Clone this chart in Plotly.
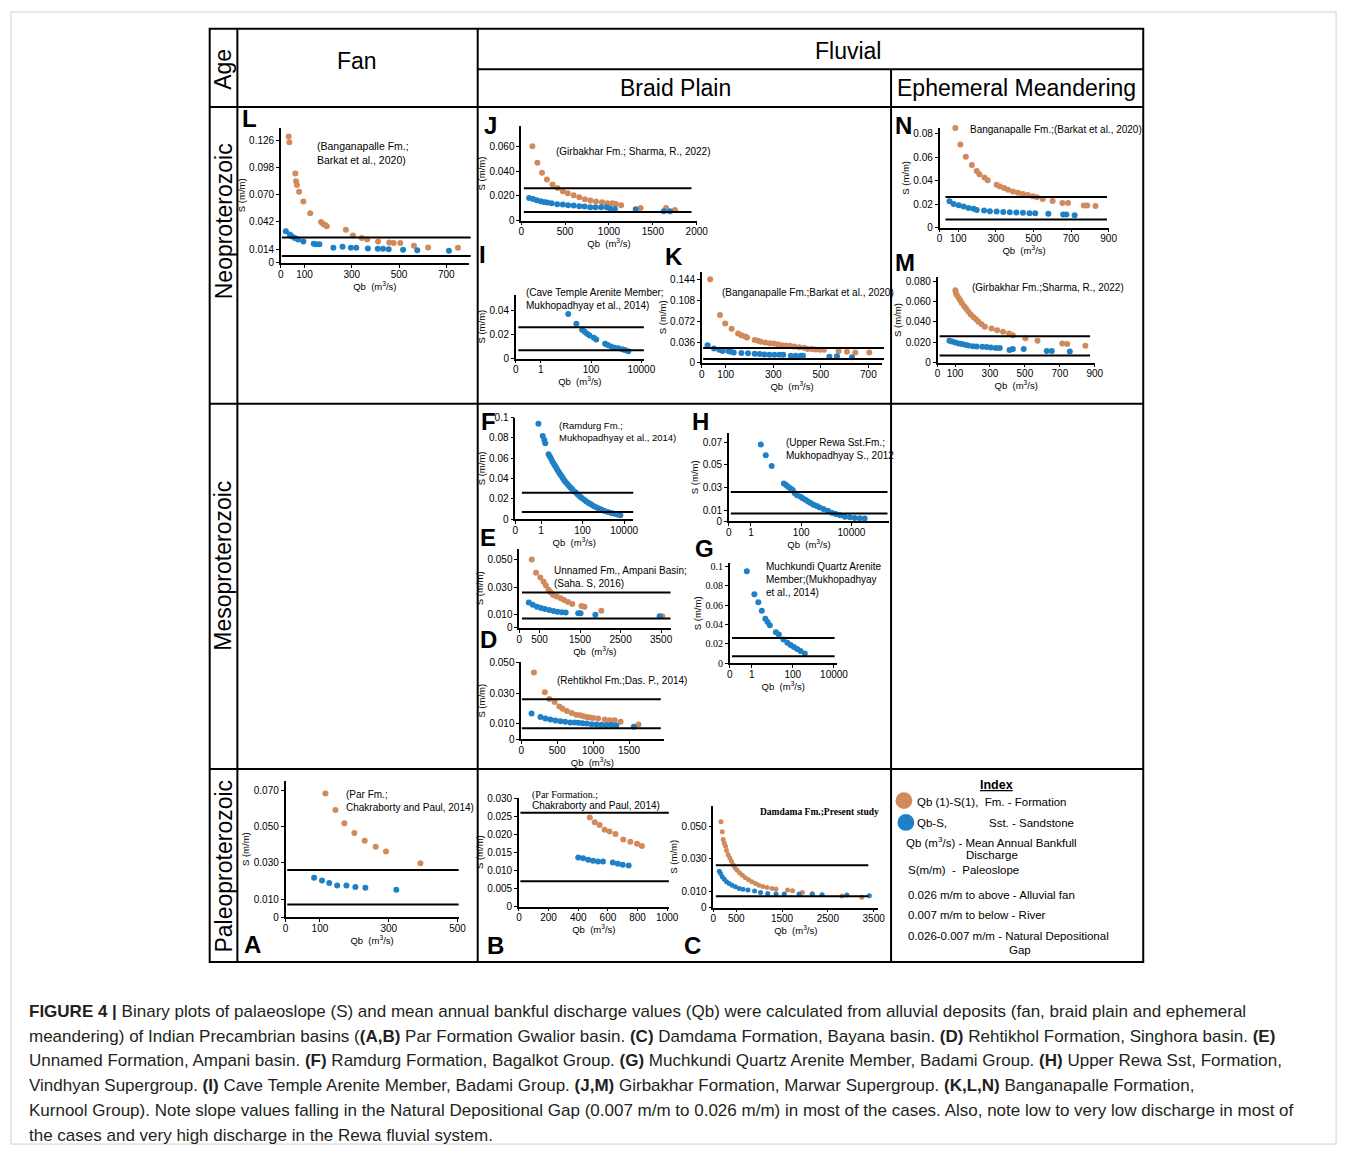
import plotly.graph_objects as go

W, H = 1356, 1157
ORANGE = '#D08A5C'
BLUE = '#1F80C6'
GAP_UPPER = 0.026
GAP_LOWER = 0.007
FONT = 'Arial, Liberation Sans, sans-serif'
SERIF = 'Times New Roman, Liberation Serif, serif'

# ---------------- data (Qb in m3/s, S in m/m) ----------------
L_FM_QB = [33, 36, 61, 64, 68, 77, 95, 124, 170, 179, 187, 194, 275, 305, 342, 365, 411, 459, 477, 505, 563, 623, 749]
L_FM_S = [0.130, 0.124, 0.092, 0.084, 0.080, 0.073, 0.063, 0.051, 0.042, 0.040, 0.039, 0.0375, 0.034, 0.028, 0.0256,
          0.024, 0.022, 0.021, 0.0205, 0.0205, 0.0175, 0.0158, 0.0154]
L_SST_QB = [21, 38, 47, 59, 73, 95, 139, 149, 163, 222, 261, 296, 319, 368, 410, 432, 456, 517, 577, 711]
L_SST_S = [0.0324, 0.029, 0.027, 0.0256, 0.024, 0.022, 0.0195, 0.019, 0.019, 0.0154, 0.0165, 0.0154, 0.0154, 0.0148,
           0.0144, 0.0144, 0.014, 0.0134, 0.013, 0.0124]

J_FM_QB = [128, 184, 237, 293, 357, 414, 474, 530, 598, 662, 726, 789, 853, 921, 981, 1038, 1079, 1139, 1361, 1650, 1752]
J_FM_S = [0.060, 0.0467, 0.0387, 0.0332, 0.0292, 0.0262, 0.0236, 0.022, 0.0204, 0.0188, 0.0172, 0.0161, 0.0153,
          0.0148, 0.014, 0.014, 0.0134, 0.0124, 0.0102, 0.0102, 0.0086]
J_SST_QB = [90, 135, 177, 222, 259, 297, 346, 410, 474, 534, 598, 662, 722, 786, 846, 910, 974, 1011, 1068, 1305, 1624, 1695]
J_SST_S = [0.0182, 0.0175, 0.0164, 0.0156, 0.015, 0.0145, 0.014, 0.0132, 0.0129, 0.0124, 0.0121, 0.0116, 0.0113,
           0.0108, 0.0108, 0.0108, 0.0108, 0.0097, 0.0094, 0.0092, 0.0076, 0.0076]

N_FM_QB = [84, 111, 140, 172, 198, 212, 239, 256, 304, 321, 344, 365, 391, 418, 444, 470, 496, 518, 549, 602, 654, 684,
           768, 786, 830]
N_FM_S = [0.0846, 0.0706, 0.0602, 0.0532, 0.0482, 0.0454, 0.0426, 0.0403, 0.0364, 0.035, 0.0336, 0.0322, 0.0308,
          0.0297, 0.0286, 0.0277, 0.0266, 0.0258, 0.0244, 0.0227, 0.021, 0.021, 0.0188, 0.0188, 0.0185]
N_SST_QB = [53, 75, 102, 128, 154, 181, 198, 237, 268, 304, 339, 374, 409, 444, 479, 509, 579, 658, 675, 719]
N_SST_S = [0.0224, 0.0202, 0.019, 0.0179, 0.0168, 0.016, 0.0151, 0.0146, 0.014, 0.0137, 0.0134, 0.0132, 0.0129,
           0.0126, 0.0123, 0.0123, 0.0118, 0.0112, 0.0112, 0.0106]

I_SST_QB = [12.3, 26, 43.6, 55.6, 69, 87.5, 128, 160, 363, 460, 627, 849, 1210, 1780, 2220, 3020]
I_SST_S = [0.037, 0.0288, 0.024, 0.0222, 0.0205, 0.0192, 0.0173, 0.0159, 0.0123, 0.0112, 0.0101, 0.009, 0.0085,
           0.0077, 0.0071, 0.006]

K_FM_QB = [35, 76, 98, 125, 152, 166, 182, 190, 222, 236, 249, 267, 284, 302, 319, 337, 353, 370, 388, 409, 430, 444,
           462, 478, 496, 513, 575, 610, 645, 704]
K_FM_S = [0.1445, 0.0825, 0.068, 0.059, 0.051, 0.0478, 0.0455, 0.0438, 0.0398, 0.0381, 0.0364, 0.0353, 0.0341, 0.0336,
          0.0324, 0.0307, 0.0302, 0.0296, 0.0285, 0.0273, 0.0262, 0.024, 0.024, 0.0234, 0.0228, 0.0228, 0.0205,
          0.0194, 0.0182, 0.0182]
K_SST_QB = [24, 51, 73, 87, 111, 121, 134, 166, 194, 222, 243, 263, 284, 305, 326, 342, 374, 395, 416, 425, 536, 568, 631]
K_SST_S = [0.0307, 0.0251, 0.0228, 0.0205, 0.0205, 0.0194, 0.0182, 0.0171, 0.0166, 0.016, 0.0154, 0.0148, 0.0143,
           0.0143, 0.0143, 0.0143, 0.0126, 0.0126, 0.0126, 0.0126, 0.0108, 0.0114, 0.0097]

M_FM_QB = [102, 105, 111, 121, 130, 139, 153, 164, 177, 190, 205, 220, 234, 252, 271, 309, 341, 375, 409, 431, 503, 572,
           714, 742, 846]
M_FM_S = [0.0712, 0.0686, 0.0663, 0.0637, 0.0611, 0.0588, 0.0556, 0.053, 0.05, 0.0474, 0.0448, 0.0426, 0.0403, 0.0377,
          0.0354, 0.0335, 0.0318, 0.0305, 0.0286, 0.027, 0.024, 0.0214, 0.0188, 0.0182, 0.0166]
M_SST_QB = [68, 83, 102, 121, 139, 158, 177, 202, 224, 256, 281, 305, 333, 356, 412, 431, 493, 625, 654, 757]
M_SST_S = [0.0214, 0.0208, 0.0198, 0.0188, 0.0182, 0.0175, 0.0169, 0.0162, 0.0159, 0.0156, 0.0153, 0.0149, 0.0143,
           0.0143, 0.0123, 0.0133, 0.0133, 0.0113, 0.0113, 0.011]

F_SST_QB = [0.75, 1.2, 1.44, 1.6, 2.3, 2.65, 3.07, 3.55, 4.1, 4.74, 5.5, 6.3, 7.3, 8.4, 9.8, 11.3, 13.1, 15.1, 18.1,
            21.7, 26, 31, 38.8, 48.3, 60, 74, 92, 119, 153, 197, 254, 338, 451, 603, 806, 1160, 1660, 2380, 3420,
            4900, 6600]
F_SST_S = [0.094, 0.082, 0.078, 0.0748, 0.064, 0.0618, 0.0595, 0.0569, 0.0546, 0.0527, 0.0504, 0.0481, 0.0462, 0.0442,
           0.0423, 0.0403, 0.0384, 0.0367, 0.0348, 0.0328, 0.0312, 0.0296, 0.0276, 0.026, 0.024, 0.0224, 0.0208,
           0.0192, 0.0175, 0.0159, 0.0146, 0.013, 0.0117, 0.0104, 0.0094, 0.0081, 0.0071, 0.0061, 0.0052, 0.0045,
           0.0039]

H_SST_QB = [2.48, 3.9, 6.7, 20.5, 25, 30, 37, 46, 56, 69, 94, 115, 147, 188, 238, 312, 420, 536, 770, 1150, 1660, 2360,
            3500, 5500, 8700, 13600, 21500, 33700]
H_SST_S = [0.0679, 0.0585, 0.0489, 0.0334, 0.0322, 0.0307, 0.0293, 0.0278, 0.0248, 0.0231, 0.0217, 0.0205, 0.019,
           0.0176, 0.0161, 0.0146, 0.0135, 0.0123, 0.0108, 0.0094, 0.0076, 0.0065, 0.0053, 0.0041, 0.0035, 0.003,
           0.0027, 0.0024]

E_FM_QB = [309, 415, 520, 602, 659, 724, 780, 837, 927, 1024, 1106, 1203, 1309, 1537, 1610, 2024, 3528]
E_FM_S = [0.0503, 0.0406, 0.037, 0.034, 0.0312, 0.028, 0.026, 0.0243, 0.0232, 0.0219, 0.0205, 0.019, 0.0176, 0.0161,
          0.0156, 0.0127, 0.0086]
E_SST_QB = [236, 333, 439, 537, 634, 740, 846, 943, 1049, 1146, 1455, 1512, 1878, 3463]
E_SST_S = [0.0188, 0.0171, 0.0156, 0.0147, 0.0139, 0.0132, 0.0125, 0.012, 0.0115, 0.0113, 0.0108, 0.0108, 0.0098,
           0.0086]

D_FM_QB = [177, 328, 392, 466, 530, 576, 635, 704, 764, 819, 865, 911, 956, 1002, 1071, 1163, 1232, 1300, 1383, 1631]
D_FM_S = [0.0435, 0.0305, 0.0262, 0.0241, 0.0213, 0.0198, 0.0183, 0.017, 0.0159, 0.0155, 0.0149, 0.0144, 0.014,
          0.0138, 0.0134, 0.0127, 0.0123, 0.0123, 0.0112, 0.0095]
D_SST_QB = [144, 268, 337, 406, 475, 544, 612, 681, 741, 796, 851, 911, 979, 1048, 1117, 1186, 1255, 1323, 1567]
D_SST_S = [0.0166, 0.0144, 0.0134, 0.0127, 0.0121, 0.0116, 0.0112, 0.0108, 0.0108, 0.0106, 0.0103, 0.0101, 0.0097,
           0.0095, 0.0093, 0.0091, 0.0091, 0.0088, 0.008]

G_SST_QB = [0.58, 1.35, 2.1, 3.1, 4.6, 5.9, 7.6, 15, 21, 35, 54, 78, 112, 162, 235, 380]
G_SST_S = [0.0949, 0.0711, 0.063, 0.0541, 0.0459, 0.0425, 0.0391, 0.0319, 0.0296, 0.0245, 0.0211, 0.0187, 0.0166,
           0.0146, 0.0126, 0.0099]

A_FM_QB = [116, 145, 171, 200, 230, 262, 292, 392]
A_FM_S = [0.0682, 0.0591, 0.0518, 0.0464, 0.0422, 0.0389, 0.0362, 0.0298]
A_SST_QB = [83, 106, 127, 150, 177, 203, 232, 322]
A_SST_S = [0.0217, 0.0202, 0.0189, 0.0175, 0.0175, 0.0167, 0.0162, 0.0151]

B_FM_QB = [478, 511, 544, 578, 611, 651, 704, 751, 796, 829]
B_FM_S = [0.0247, 0.0234, 0.0226, 0.0213, 0.0208, 0.0201, 0.0186, 0.018, 0.0174, 0.0168]
B_SST_QB = [400, 433, 467, 500, 533, 567, 633, 667, 700, 740]
B_SST_S = [0.0136, 0.0134, 0.013, 0.0127, 0.0125, 0.0125, 0.0122, 0.0119, 0.0116, 0.0114]

C_FM_QB = [166, 194, 216, 238, 266, 288, 324, 360, 396, 432, 468, 518, 576, 634, 698, 770, 842, 922, 994, 1080, 1174,
           1282, 1368, 1620, 1728, 1944, 2160, 2808, 3240]
C_FM_S = [0.0528, 0.0467, 0.0419, 0.0398, 0.0378, 0.0352, 0.0325, 0.0305, 0.0285, 0.0264, 0.0246, 0.023, 0.0213,
          0.0199, 0.0183, 0.0171, 0.0159, 0.0148, 0.0138, 0.013, 0.0124, 0.0118, 0.0114, 0.0108, 0.0104, 0.0093,
          0.0087, 0.0071, 0.0063]
C_SST_QB = [130, 158, 194, 238, 288, 346, 410, 482, 562, 648, 756, 900, 1030, 1188, 1368, 1548, 1872, 2160, 2376, 2916,
            3405]
C_SST_S = [0.0224, 0.0209, 0.0189, 0.0175, 0.0159, 0.0148, 0.0138, 0.0128, 0.0118, 0.0112, 0.0108, 0.0102, 0.0093,
           0.0087, 0.0083, 0.0083, 0.0083, 0.0081, 0.0079, 0.0077, 0.0073]

LIN_TICKS = {
    'L': ([0, 100, 300, 500, 700], ['0', '0.014', '0.042', '0.070', '0.098', '0.126']),
    'J': ([0, 500, 1000, 1500, 2000], ['0', '0.020', '0.040', '0.060']),
    'N': ([0, 100, 300, 500, 700, 900], ['0', '0.02', '0.04', '0.06', '0.08']),
    'I': (['0', '1', '100', '10000'], ['0', '0.02', '0.04']),
    'K': ([0, 100, 300, 500, 700], ['0', '0.036', '0.072', '0.108', '0.144']),
    'M': ([0, 100, 300, 500, 700, 900], ['0', '0.020', '0.040', '0.060', '0.080']),
    'F': (['0', '1', '100', '10000'], ['0', '0.02', '0.04', '0.06', '0.08', '0.1']),
    'H': (['0', '1', '100', '10000'], ['0', '0.01', '0.03', '0.05', '0.07']),
    'E': ([0, 500, 1500, 2500, 3500], ['0', '0.010', '0.030', '0.050']),
    'D': ([0, 500, 1000, 1500, 2000], ['0', '0.010', '0.030', '0.050']),
    'G': (['0', '1', '100', '10000'], ['0', '0.02', '0.04', '0.06', '0.08', '0.1']),
    'A': ([0, 100, 300, 500], ['0', '0.010', '0.030', '0.050', '0.070']),
    'B': ([0, 200, 400, 600, 800, 1000], ['0', '0.005', '0.010', '0.015', '0.020', '0.025', '0.030']),
    'C': ([0, 500, 1500, 2500, 3500], ['0', '0.010', '0.030', '0.050']),
}

DATA = {
    'L': (L_FM_QB, L_FM_S, L_SST_QB, L_SST_S),
    'J': (J_FM_QB, J_FM_S, J_SST_QB, J_SST_S),
    'N': (N_FM_QB, N_FM_S, N_SST_QB, N_SST_S),
    'I': (None, None, I_SST_QB, I_SST_S),
    'K': (K_FM_QB, K_FM_S, K_SST_QB, K_SST_S),
    'M': (M_FM_QB, M_FM_S, M_SST_QB, M_SST_S),
    'F': (None, None, F_SST_QB, F_SST_S),
    'H': (None, None, H_SST_QB, H_SST_S),
    'E': (E_FM_QB, E_FM_S, E_SST_QB, E_SST_S),
    'D': (D_FM_QB, D_FM_S, D_SST_QB, D_SST_S),
    'G': (None, None, G_SST_QB, G_SST_S),
    'A': (A_FM_QB, A_FM_S, A_SST_QB, A_SST_S),
    'B': (B_FM_QB, B_FM_S, B_SST_QB, B_SST_S),
    'C': (C_FM_QB, C_FM_S, C_SST_QB, C_SST_S),
}

# ---------------- layout geometry (pixels) ----------------
GEOM = {
    'L': dict(x0=281, x1=471, yb=259.5, yt=123, xr=[0, 795], yr=[0, 0.139], log=False, ln=(0.005, 1.01)),
    'J': dict(x0=524, x1=701.5, yb=216.8, yt=121.7, xr=[0, 2000], yr=[0, 0.076], log=False, ln=(0.015, 0.97)),
    'N': dict(x0=947, x1=1118, yb=224, yt=123.3, xr=[0, 900], yr=[0, 0.0846], log=False, ln=(0.035, 0.99)),
    'I': dict(x0=518.5, x1=648, yb=356.3, yt=291.7, xr=[-1, 4.1], yr=[0, 0.053], log=True, ln=(0.02, 1.0)),
    'K': dict(x0=706.7, x1=889, yb=360.7, yt=268.3, xr=[0, 758], yr=[0, 0.1577], log=False, ln=(0.007, 1.01)),
    'M': dict(x0=945, x1=1104, yb=360.3, yt=274.3, xr=[0, 900], yr=[0, 0.0839], log=False, ln=(0.013, 0.97)),
    'F': dict(x0=518, x1=637.3, yb=518.5, yt=416, xr=[-1.24, 4.44], yr=[0, 0.1], log=True, ln=(0.056, 1.0)),
    'H': dict(x0=734, x1=896, yb=520.7, yt=431.7, xr=[-0.878, 5.5], yr=[0, 0.078], log=True, ln=(0.012, 0.99)),
    'E': dict(x0=522, x1=675, yb=628.5, yt=548.3, xr=[0, 3732], yr=[0, 0.0583], log=False, ln=(0.018, 1.0)),
    'D': dict(x0=524, x1=668, yb=740.7, yt=663.3, xr=[0, 1981], yr=[0, 0.05], log=False, ln=(0.005, 0.98)),
    'G': dict(x0=735, x1=843, yb=664, yt=563.3, xr=[-1.06, 4.13], yr=[0, 0.103], log=True, ln=(0.02, 0.98)),
    'A': dict(x0=285.7, x1=460.7, yb=920.7, yt=783.3, xr=[0, 503], yr=[0, 0.075], log=False, ln=(0.01, 1.0)),
    'B': dict(x0=521.7, x1=673.3, yb=910, yt=800, xr=[0, 1011], yr=[0, 0.0302], log=False, ln=(0.01, 1.0)),
    'C': dict(x0=718.3, x1=885, yb=911, yt=808.3, xr=[0, 3600], yr=[0, 0.0626], log=False, ln=(0.015, 0.94)),
}

LETTERS = {'L': (249, 114), 'J': (493, 121), 'N': (911, 121), 'I': (485, 251), 'K': (679, 253), 'M': (912, 259),
           'F': (491, 420), 'H': (705, 420), 'E': (490, 537), 'D': (491, 640), 'G': (709, 548), 'A': (252, 948),
           'B': (498, 949), 'C': (697, 949)}

NOTES = [
    ('L', '(Banganapalle Fm.;<br>Barkat et al., 2020)', 315, 149, FONT, 10.5),
    ('J', '(Girbakhar Fm.; Sharma, R., 2022)', 557, 147, FONT, 10),
    ('N', 'Banganapalle Fm.;(Barkat et al., 2020)', 976, 125, FONT, 10),
    ('I', '(Cave Temple Arenite Member;<br>Mukhopadhyay et al., 2014)', 527, 296, FONT, 10),
    ('K', '(Banganapalle Fm.;Barkat et al., 2020)', 725, 289, FONT, 10),
    ('M', '(Girbakhar Fm.;Sharma, R., 2022)', 978, 284, FONT, 10),
    ('F', '(Ramdurg Fm.;<br>Mukhopadhyay et al., 2014)', 560, 430, FONT, 9.5),
    ('H', '(Upper Rewa Sst.Fm.;<br>Mukhopadhyay S., 2012', 790, 448, FONT, 10),
    ('E', 'Unnamed Fm., Ampani Basin;<br>(Saha. S, 2016)', 555, 577, FONT, 10),
    ('D', '(Rehtikhol Fm.;Das. P., 2014)', 558, 682, FONT, 10),
    ('G', 'Muchkundi Quartz Arenite<br>Member;(Mukhopadhyay<br>et al., 2014)', 770, 580, FONT, 10),
    ('A', '(Par Fm.;<br>Chakraborty and Paul, 2014)', 345, 803, FONT, 10),
    ('B1', '(Par Formation.;', 533, 797, SERIF, 10),
    ('B2', 'Chakraborty and Paul, 2014)', 533, 808, FONT, 10),
    ('C', '<b>Damdama Fm.;Present study</b>', 763, 814, SERIF, 9.5),
]


def fx(p):
    return p / W


def fy(p):
    return 1 - p / H


fig = go.Figure()
layout = dict(width=W, height=H, margin=dict(l=0, r=0, t=0, b=0), paper_bgcolor='white', plot_bgcolor='rgba(0,0,0,0)',
              showlegend=False, font=dict(family=FONT, color='black'))
shapes = []
annotations = []


def text_ann(txt, x, y, size, anc='center', angle=0, family=FONT, color='black'):
    annotations.append(dict(text=txt, x=fx(x), y=fy(y), xref='paper', yref='paper', showarrow=False,
                            xanchor=anc, yanchor='middle', align='left' if anc == 'left' else 'center',
                            textangle=angle, font=dict(size=size, family=family, color=color)))


for i, key in enumerate(GEOM, start=1):
    g = GEOM[key]
    sx = '' if i == 1 else str(i)
    xname, yname = 'x' + sx, 'y' + sx
    fm_q, fm_s, sst_q, sst_s = DATA[key]
    xt, yt_text = LIN_TICKS[key]
    if g['log']:
        xvals = [10 ** g['xr'][0], 1, 100, 10000]
        xtext = xt
    else:
        xvals = xt
        xtext = [str(v) for v in xt]
    yvals = [float(t) for t in yt_text]
    ytick_font = dict(family=SERIF if key == 'G' else FONT, size=10)
    layout['xaxis' + sx] = dict(
        domain=[fx(g['x0']), fx(g['x1'])], anchor=yname, range=g['xr'], type='log' if g['log'] else 'linear',
        showline=True, linecolor='black', linewidth=1.5, ticks='outside', ticklen=3, tickwidth=1,
        tickcolor='black', showgrid=False, zeroline=False, tickvals=xvals, ticktext=xtext,
        tickfont=dict(family=FONT, size=10), ticklabelstandoff=-2,
        title=dict(text='Qb  (m<sup>3</sup>/s)', font=dict(size=9.5), standoff=0))
    layout['yaxis' + sx] = dict(
        domain=[fy(g['yb']), fy(g['yt'])], anchor=xname, range=g['yr'], showline=True, linecolor='black',
        linewidth=1.5, ticks='outside', ticklen=3, tickwidth=1, tickcolor='black', showgrid=False,
        zeroline=False, tickvals=yvals, ticktext=yt_text, tickfont=ytick_font,
        title=dict(text='S (m/m)', font=dict(size=9.5), standoff=2))
    if fm_q is not None:
        fig.add_trace(go.Scatter(x=fm_q, y=fm_s, mode='markers', xaxis=xname, yaxis=yname, cliponaxis=False,
                                 marker=dict(color=ORANGE, size=6 if key != 'C' else 5, line=dict(width=0))))
    fig.add_trace(go.Scatter(x=sst_q, y=sst_s, mode='markers', xaxis=xname, yaxis=yname, cliponaxis=False,
                             marker=dict(color=BLUE, size=6 if key != 'C' else 5, line=dict(width=0))))
    for lvl in (GAP_UPPER, GAP_LOWER):
        shapes.append(dict(type='line', xref=xname + ' domain', yref=yname, x0=g['ln'][0], x1=g['ln'][1],
                           y0=lvl, y1=lvl, line=dict(color='black', width=2)))
    lx, ly = LETTERS[key]
    text_ann('<b>%s</b>' % key, lx, ly, 24)

for key, txt, x, y, fam, sz in NOTES:
    text_ann(txt, x, y, sz, anc='left', family=fam)

# ---------------- table frame ----------------
BOX = dict(l=209, r=1153, t=23, b=966)


def hline(x0, x1, y, w=2):
    shapes.append(dict(type='line', xref='paper', yref='paper', x0=fx(x0), x1=fx(x1), y0=fy(y), y1=fy(y),
                       line=dict(color='black', width=w)))


def vline(x, y0, y1, w=2):
    shapes.append(dict(type='line', xref='paper', yref='paper', x0=fx(x), x1=fx(x), y0=fy(y0), y1=fy(y1),
                       line=dict(color='black', width=w)))


shapes.append(dict(type='rect', xref='paper', yref='paper', x0=fx(8), x1=fx(1348), y0=fy(6), y1=fy(1150),
                   line=dict(color='#D0D0D0', width=1)))
shapes.append(dict(type='rect', xref='paper', yref='paper', x0=fx(BOX['l']), x1=fx(BOX['r']), y0=fy(BOX['t']),
                   y1=fy(BOX['b']), line=dict(color='black', width=2)))
vline(237, 23, 966)
vline(480, 23, 966)
vline(898, 64, 966)
hline(480, 1153, 64)
hline(209, 1153, 102)
hline(209, 1153, 402)
hline(209, 1153, 771)

HEADERS = [('Fan', 358, 56, 0), ('Fluvial', 854, 45, 0), ('Braid Plain', 680, 83, 0),
           ('Ephemeral Meandering', 1025, 83, 0), ('Age', 223, 64, -90), ('Neoproterozoic', 223, 218, -90),
           ('Mesoproterozoic', 223, 566, -90), ('Paleoproterozoic', 223, 869, -90)]
for txt, x, y, ang in HEADERS:
    text_ann(txt, x, y, 23, angle=ang)

# ---------------- index panel ----------------
for cx, cy, col in ((911, 803, ORANGE), (913, 825, BLUE)):
    shapes.append(dict(type='circle', xref='paper', yref='paper', x0=fx(cx - 8.5), x1=fx(cx + 8.5),
                       y0=fy(cy + 8.5), y1=fy(cy - 8.5), fillcolor=col, line=dict(width=0)))
INDEX = [('<b><u>Index</u></b>', 1005, 787, 'center', 12.5),
         ('Qb (1)-S(1),  Fm. - Formation', 922, 804, 'left', 11.5),
         ('Qb-S,', 922, 826, 'left', 11.5),
         ('Sst. - Sandstone', 995, 826, 'left', 11.5),
         ('Qb (m<sup>3</sup>/s) - Mean Annual Bankfull', 911, 845, 'left', 11.5),
         ('Discharge', 1000, 858, 'center', 11.5),
         ('S(m/m)  -  Paleoslope', 913, 873, 'left', 11.5),
         ('0.026 m/m to above - Alluvial fan', 913, 898, 'left', 11.5),
         ('0.007 m/m to below - River', 913, 919, 'left', 11.5),
         ('0.026-0.007 m/m - Natural Depositional', 913, 940, 'left', 11.5),
         ('Gap', 1028, 954, 'center', 11.5)]
for txt, x, y, anc, sz in INDEX:
    text_ann(txt, x, y, sz, anc=anc)

# ---------------- caption ----------------
CAPTION = [
    '<b>FIGURE 4 |</b> Binary plots of palaeoslope (S) and mean annual bankful discharge values (Qb) were calculated from alluvial deposits (fan, braid plain and ephemeral',
    'meandering) of Indian Precambrian basins (<b>(A,B)</b> Par Formation Gwalior basin. <b>(C)</b> Damdama Formation, Bayana basin. <b>(D)</b> Rehtikhol Formation, Singhora basin. <b>(E)</b>',
    'Unnamed Formation, Ampani basin. <b>(F)</b> Ramdurg Formation, Bagalkot Group. <b>(G)</b> Muchkundi Quartz Arenite Member, Badami Group. <b>(H)</b> Upper Rewa Sst, Formation,',
    'Vindhyan Supergroup. <b>(I)</b> Cave Temple Arenite Member, Badami Group. <b>(J,M)</b> Girbakhar Formation, Marwar Supergroup. <b>(K,L,N)</b> Banganapalle Formation,',
    'Kurnool Group). Note slope values falling in the Natural Depositional Gap (0.007 m/m to 0.026 m/m) in most of the cases. Also, note low to very low discharge in most of',
    'the cases and very high discharge in the Rewa fluvial system.',
]
for k, line in enumerate(CAPTION):
    text_ann(line, 24, 1016 + 25 * k, 17, anc='left', color='#231F20')

layout['shapes'] = shapes
layout['annotations'] = annotations
fig.update_layout(**layout)
fig.write_html('out.html', post_script="document.body.style.margin='0px';")
